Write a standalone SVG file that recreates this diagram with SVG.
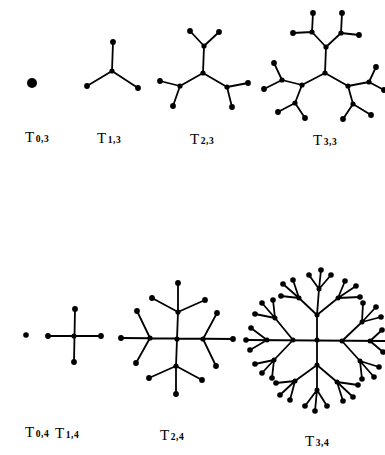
<svg xmlns="http://www.w3.org/2000/svg" width="385" height="455" viewBox="0 0 385 455">
<style>
.e{stroke:#000;stroke-width:1.8;fill:none;stroke-linecap:round}
.n circle{fill:#000}
.lbl{font-family:"Liberation Serif","Times New Roman",serif;font-size:15px;fill:#000}
.sub{font-size:9.5px;font-weight:bold;letter-spacing:0.6px}
</style>
<rect width="385" height="455" fill="#fff"/>
<g id="connectors">
<path class="e" d="M112 71L113 42M112 71L87 86M112 71L138 88"/>
<path class="e" d="M203 73L204 46M204 46L190 31M204 46L219 32M203 73L180 86M180 86L160 81M180 86L173 106M203 73L227 87M227 87L248 83M227 87L232 107"/>
<path class="e" d="M325 73L326 47M326 47L312 32M312 32L313 13M312 32L293 33M326 47L341 33M341 33L342 13M341 33L359 35M325 73L302 85M302 85L282 80M282 80L274 63M282 80L264 89M302 85L295 103M295 103L278 112M295 103L305 118M325 73L348 86M348 86L369 82M369 82L376 67M369 82L384 90M348 86L353 104M353 104L343 119M353 104L371 115"/>
<path class="e" d="M48 336L101 336M75 309L74 362"/>
<path class="e" d="M121 338L233 339M177 339L178 312M177 339L176 366M150 338L137 311M150 338L136 363M178 312L178 283M178 312L152 298M178 312L205 300M176 366L176 394M176 366L149 378M176 366L202 380M203 339L217 313M203 339L216 366"/>
<path class="e" d="M246 340L388 341M317 340L317 315M317 340L317 365
M317 315L319 289M319 289L309 275M319 289L321 270M319 289L331 275
M317 315L299 298M299 298L283 284M299 298L293 280M299 298L281 296
M317 315L338 298M338 298L345 281M338 298L356 286M338 298L360 297
M293 340L275 318M275 318L255 314M275 318L262 303M275 318L273 300
M267 340L251 328M267 340L250 350
M293 340L274 360M274 360L255 364M274 360L262 373M274 360L272 378
M342 341L362 322M362 322L363 303M362 322L376 307M362 322L381 317
M370 341L382 330M370 341L383 352
M342 341L360 361M360 361L379 367M360 361L374 377M360 361L362 379
M317 365L317 390M317 390L305 406M317 390L315 411M317 390L327 406
M317 365L295 381M295 381L276 383M295 381L280 395M295 381L290 400
M317 365L337 382M337 382L358 385M337 382L353 397M337 382L343 401"/>
</g>
<g id="T03" class="n"><circle cx="32" cy="83" r="5"/></g>
<g id="T13" class="n">
<circle cx="112" cy="71" r="2.6"/><circle cx="113" cy="42" r="2.9"/><circle cx="87" cy="86" r="2.9"/><circle cx="138" cy="88" r="2.9"/>
</g>
<g id="T23" class="n">
<circle cx="203" cy="73" r="2.6"/><circle cx="204" cy="46" r="2.6"/><circle cx="180" cy="86" r="2.6"/><circle cx="227" cy="87" r="2.6"/>
<circle cx="190" cy="31" r="2.9"/><circle cx="219" cy="32" r="2.9"/><circle cx="160" cy="81" r="2.9"/><circle cx="173" cy="106" r="2.9"/><circle cx="248" cy="83" r="2.9"/><circle cx="232" cy="107" r="2.9"/>
</g>
<g id="T33" class="n">
<circle cx="325" cy="73" r="2.6"/><circle cx="326" cy="47" r="2.6"/><circle cx="312" cy="32" r="2.6"/><circle cx="341" cy="33" r="2.6"/><circle cx="302" cy="85" r="2.6"/><circle cx="282" cy="80" r="2.6"/><circle cx="295" cy="103" r="2.6"/><circle cx="348" cy="86" r="2.6"/><circle cx="369" cy="82" r="2.6"/><circle cx="353" cy="104" r="2.6"/>
<circle cx="313" cy="13" r="2.9"/><circle cx="293" cy="33" r="2.9"/><circle cx="342" cy="13" r="2.9"/><circle cx="359" cy="35" r="2.9"/><circle cx="274" cy="63" r="2.9"/><circle cx="264" cy="89" r="2.9"/><circle cx="278" cy="112" r="2.9"/><circle cx="305" cy="118" r="2.9"/><circle cx="376" cy="67" r="2.9"/><circle cx="384" cy="90" r="2.9"/><circle cx="343" cy="119" r="2.9"/><circle cx="371" cy="115" r="2.9"/>
</g>
<g id="T04" class="n"><circle cx="26" cy="335" r="2.8"/></g>
<g id="T14" class="n">
<circle cx="74" cy="336" r="2.6"/><circle cx="48" cy="336" r="2.9"/><circle cx="101" cy="336" r="2.9"/><circle cx="75" cy="309" r="2.9"/><circle cx="74" cy="362" r="2.9"/>
</g>
<g id="T24" class="n">
<circle cx="177" cy="339" r="2.6"/><circle cx="150" cy="338" r="2.6"/><circle cx="178" cy="312" r="2.6"/><circle cx="176" cy="366" r="2.6"/><circle cx="203" cy="339" r="2.6"/>
<circle cx="121" cy="338" r="2.9"/><circle cx="137" cy="311" r="2.9"/><circle cx="136" cy="363" r="2.9"/><circle cx="178" cy="283" r="2.9"/><circle cx="152" cy="298" r="2.9"/><circle cx="205" cy="300" r="2.9"/><circle cx="176" cy="394" r="2.9"/><circle cx="149" cy="378" r="2.9"/><circle cx="202" cy="380" r="2.9"/><circle cx="233" cy="339" r="2.9"/><circle cx="217" cy="313" r="2.9"/><circle cx="216" cy="366" r="2.9"/>
</g>
<g id="T34" class="n">
<circle cx="317" cy="340" r="2.5"/><circle cx="317" cy="315" r="2.5"/><circle cx="317" cy="365" r="2.5"/><circle cx="293" cy="340" r="2.5"/><circle cx="342" cy="341" r="2.5"/>
<circle cx="319" cy="289" r="2.5"/><circle cx="299" cy="298" r="2.5"/><circle cx="338" cy="298" r="2.5"/>
<circle cx="275" cy="318" r="2.5"/><circle cx="267" cy="340" r="2.5"/><circle cx="274" cy="360" r="2.5"/>
<circle cx="362" cy="322" r="2.5"/><circle cx="370" cy="341" r="2.5"/><circle cx="360" cy="361" r="2.5"/>
<circle cx="317" cy="390" r="2.5"/><circle cx="295" cy="381" r="2.5"/><circle cx="337" cy="382" r="2.5"/>
<circle cx="309" cy="275" r="2.8"/><circle cx="321" cy="270" r="2.8"/><circle cx="331" cy="275" r="2.8"/>
<circle cx="283" cy="284" r="2.8"/><circle cx="293" cy="280" r="2.8"/><circle cx="281" cy="296" r="2.8"/>
<circle cx="345" cy="281" r="2.8"/><circle cx="356" cy="286" r="2.8"/><circle cx="360" cy="297" r="2.8"/>
<circle cx="255" cy="314" r="2.8"/><circle cx="262" cy="303" r="2.8"/><circle cx="273" cy="300" r="2.8"/>
<circle cx="246" cy="340" r="2.8"/><circle cx="251" cy="328" r="2.8"/><circle cx="250" cy="350" r="2.8"/>
<circle cx="255" cy="364" r="2.8"/><circle cx="262" cy="373" r="2.8"/><circle cx="272" cy="378" r="2.8"/>
<circle cx="363" cy="303" r="2.8"/><circle cx="376" cy="307" r="2.8"/><circle cx="381" cy="317" r="2.8"/>
<circle cx="382" cy="330" r="2.8"/><circle cx="383" cy="352" r="2.8"/>
<circle cx="379" cy="367" r="2.8"/><circle cx="374" cy="377" r="2.8"/><circle cx="362" cy="379" r="2.8"/>
<circle cx="305" cy="406" r="2.8"/><circle cx="315" cy="411" r="2.8"/><circle cx="327" cy="406" r="2.8"/>
<circle cx="276" cy="383" r="2.8"/><circle cx="280" cy="395" r="2.8"/><circle cx="290" cy="400" r="2.8"/>
<circle cx="358" cy="385" r="2.8"/><circle cx="353" cy="397" r="2.8"/><circle cx="343" cy="401" r="2.8"/>
</g>
<g id="labels" class="lbl">
<text x="25" y="142">T<tspan class="sub" dx="1.5">0,3</tspan></text>
<text x="97" y="143">T<tspan class="sub" dx="1.5">1,3</tspan></text>
<text x="190" y="144">T<tspan class="sub" dx="1.5">2,3</tspan></text>
<text x="313" y="145">T<tspan class="sub" dx="1.5">3,3</tspan></text>
<text x="25" y="437">T<tspan class="sub" dx="1.5">0,4</tspan></text>
<text x="55" y="438">T<tspan class="sub" dx="1.5">1,4</tspan></text>
<text x="160" y="440">T<tspan class="sub" dx="1.5">2,4</tspan></text>
<text x="305" y="446">T<tspan class="sub" dx="1.5">3,4</tspan></text>
</g>
</svg>
